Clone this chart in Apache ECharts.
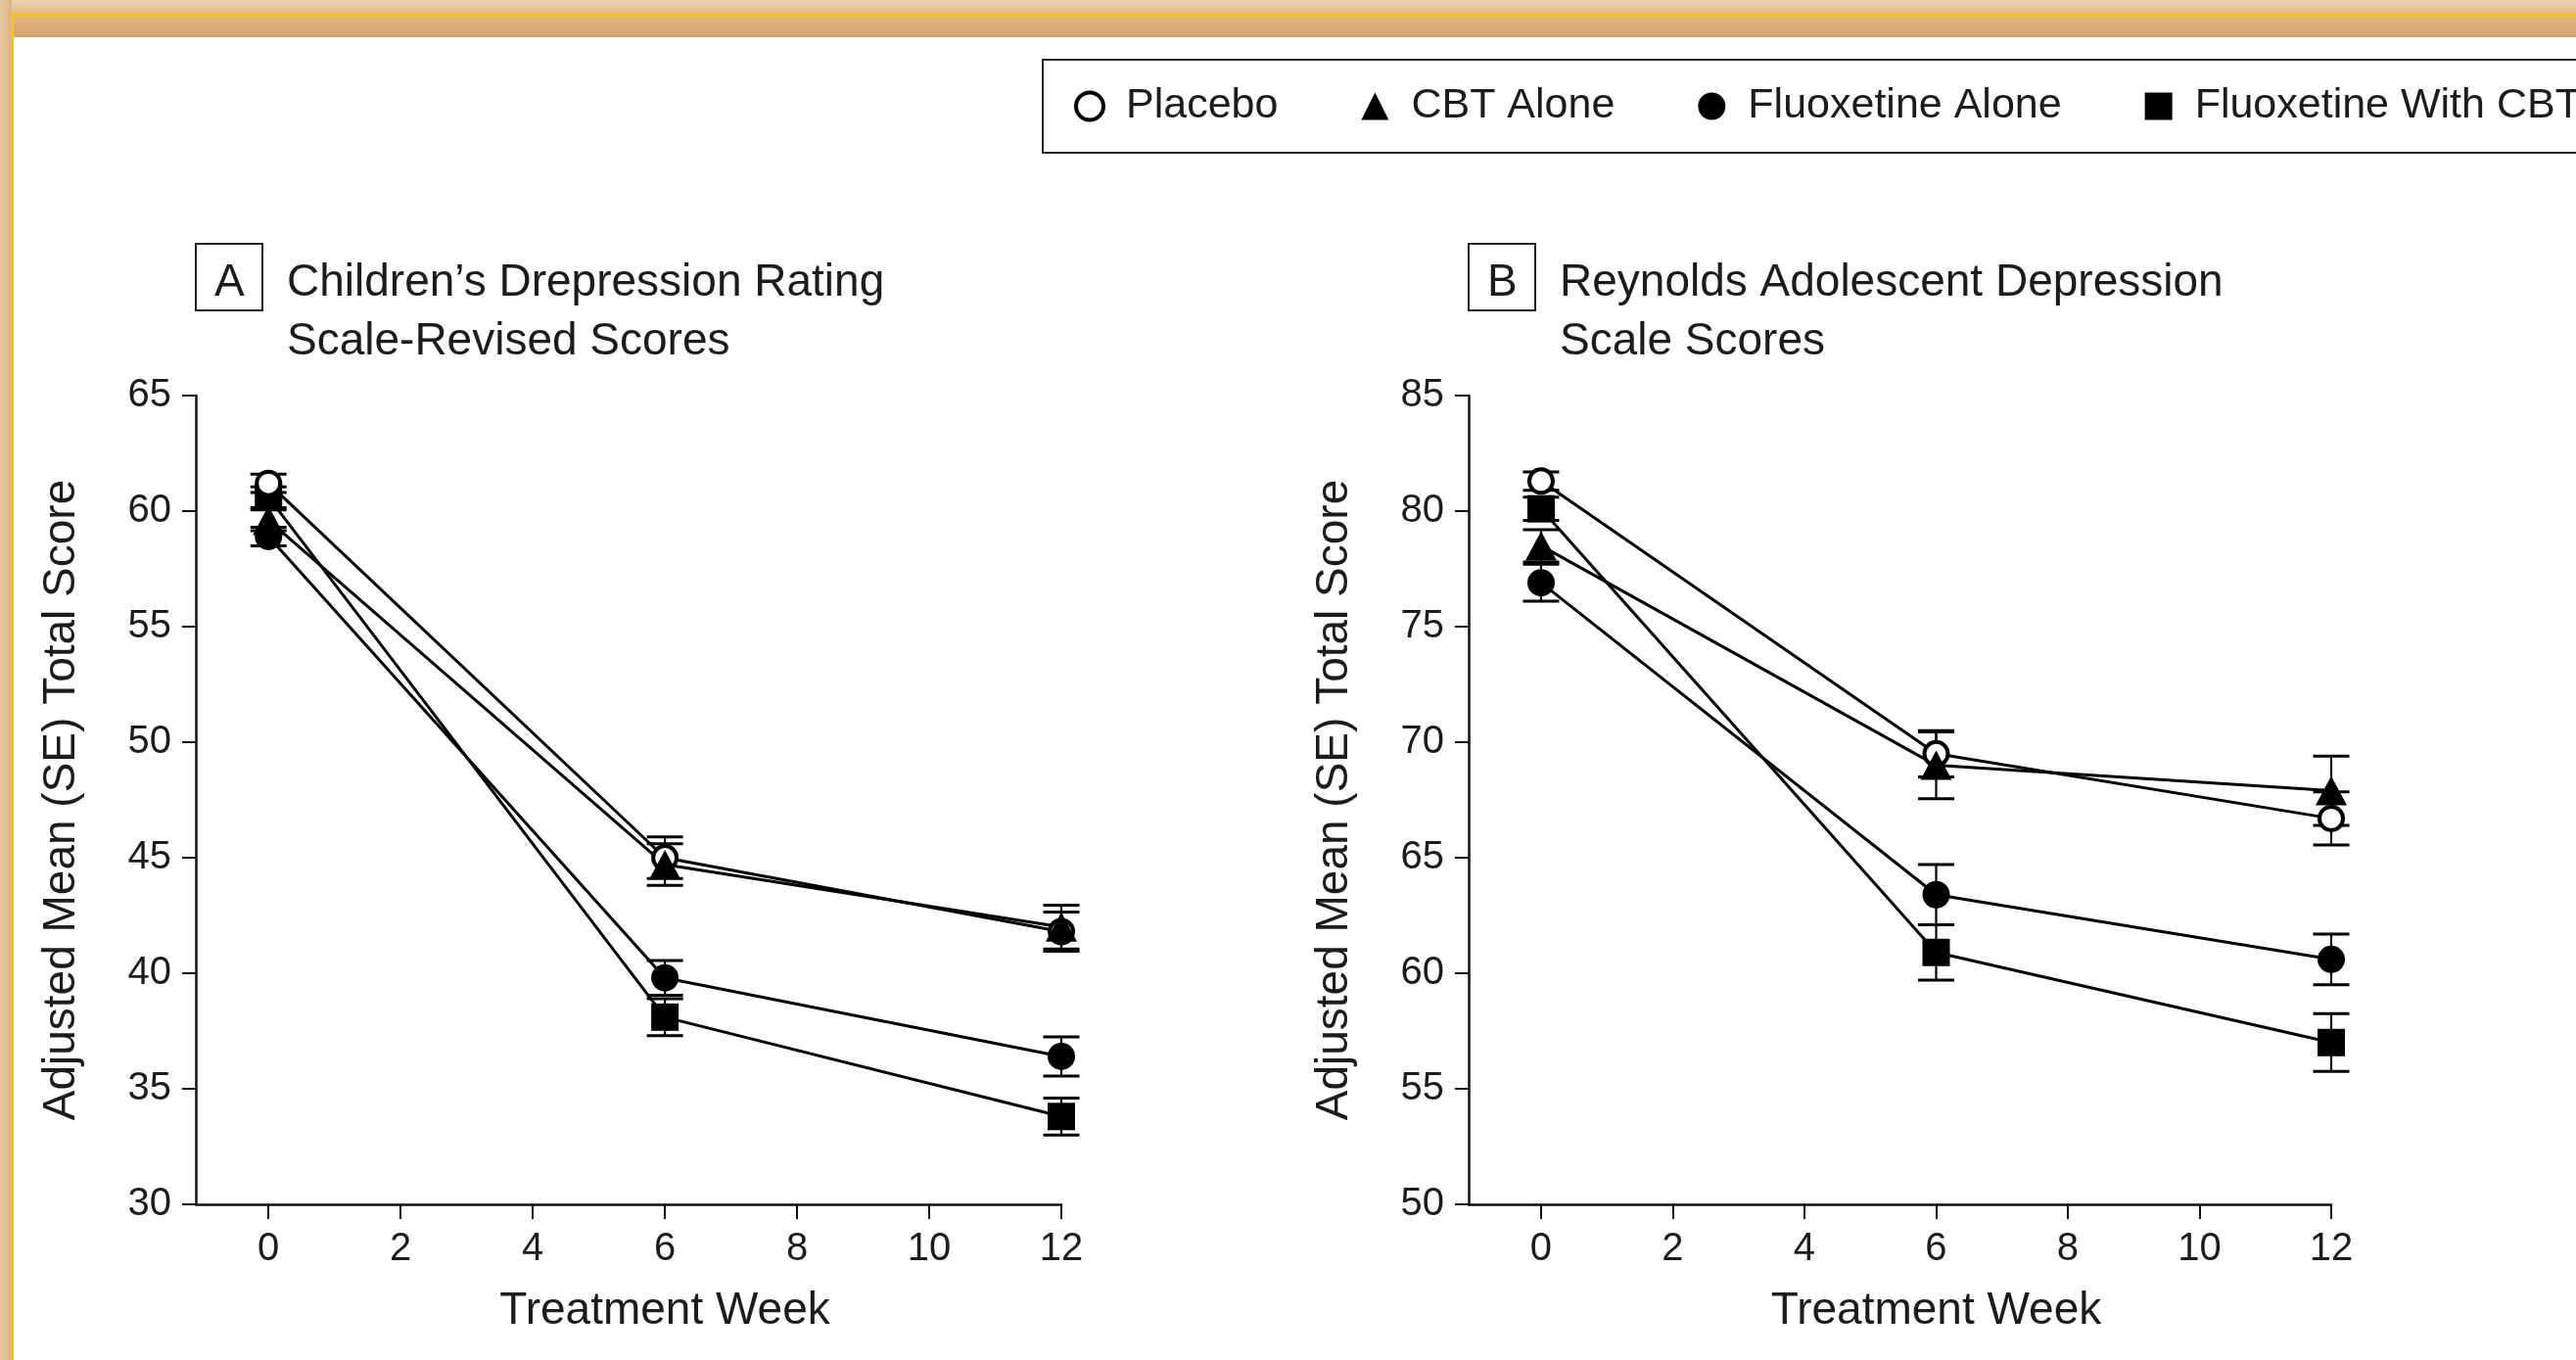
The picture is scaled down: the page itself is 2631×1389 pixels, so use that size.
<!DOCTYPE html>
<html><head><meta charset="utf-8">
<script src="https://cdn.jsdelivr.net/npm/echarts@6/dist/echarts.min.js"></script>
<style>html,body{margin:0;padding:0;background:#fff}#c{width:2631px;height:1389px}</style>
</head><body><div id="c"></div>
<script>
// ---------- data ----------
const weeks = [0, 6, 12];
const groups = ['Placebo', 'CBT Alone', 'Fluoxetine Alone', 'Fluoxetine With CBT'];
const xTickValues = [0, 2, 4, 6, 8, 10, 12];

// Panel A: Children's Depression Rating Scale-Revised
const cdrsPlacebo = [61.2, 45.0, 41.8];
const cdrsPlaceboSE = [0.4, 0.9, 0.85];
const cdrsCBT = [59.6, 44.7, 42.0];
const cdrsCBTSE = [0.45, 0.9, 0.95];
const cdrsFlx = [58.9, 39.8, 36.4];
const cdrsFlxSE = [0.4, 0.75, 0.85];
const cdrsComb = [60.6, 38.1, 33.8];
const cdrsCombSE = [0.45, 0.8, 0.8];

// Panel B: Reynolds Adolescent Depression Scale
const radsPlacebo = [81.3, 69.5, 66.7];
const radsPlaceboSE = [0.4, 1.0, 1.15];
const radsCBT = [78.5, 69.0, 67.9];
const radsCBTSE = [0.7, 1.45, 1.5];
const radsFlx = [76.9, 63.4, 60.6];
const radsFlxSE = [0.8, 1.3, 1.1];
const radsComb = [80.1, 60.9, 57.0];
const radsCombSE = [0.5, 1.2, 1.25];

const panelTitles = ['Children\u2019s Drepression Rating\nScale-Revised Scores', 'Reynolds Adolescent Depression\nScale Scores'];
const panelLetters = ['A', 'B'];
const xAxisName = 'Treatment Week';
const yAxisName = 'Adjusted Mean (SE) Total Score';

// ---------- styles ----------
const FONT = '"Liberation Sans", Arial, Helvetica, sans-serif';
const INK = '#1c1c1c';
const markerStyles = [
  {symbol: 'circle', symbolSize: 24, z: 6, itemStyle: {color: '#fff', borderColor: '#000', borderWidth: 4, opacity: 1}},
  {symbol: 'triangle', symbolSize: [32, 30], z: 8, itemStyle: {color: '#000', opacity: 1}},
  {symbol: 'circle', symbolSize: 28, z: 7, itemStyle: {color: '#000', opacity: 1}},
  {symbol: 'rect', symbolSize: 28, z: 5, itemStyle: {color: '#000', opacity: 1}}
];

const panels = [
  {means: [cdrsPlacebo, cdrsCBT, cdrsFlx, cdrsComb], se: [cdrsPlaceboSE, cdrsCBTSE, cdrsFlxSE, cdrsCombSE]},
  {means: [radsPlacebo, radsCBT, radsFlx, radsComb], se: [radsPlaceboSE, radsCBTSE, radsFlxSE, radsCombSE]}
];

const grids = [
  {left: 200, top: 404, width: 884, height: 826},
  {left: 1500, top: 404, width: 881, height: 826}
];
const yRanges = [[30, 65], [50, 85]];

function makeXAxis(i) {
  return {
    gridIndex: i, type: 'value', min: -1.1, max: 12,
    name: xAxisName, nameLocation: 'middle', nameGap: 86,
    nameTextStyle: {fontSize: 46, color: INK, fontFamily: FONT, padding: [0, 0, 0, 74]},
    axisLine: {show: true, onZero: false, lineStyle: {color: '#111', width: 2.5}},
    axisTick: {show: true, length: 15, customValues: xTickValues, lineStyle: {color: '#111', width: 2}},
    axisLabel: {customValues: xTickValues, fontSize: 40, color: INK, fontFamily: FONT, margin: 26},
    splitLine: {show: false}
  };
}
function makeYAxis(i) {
  return {
    gridIndex: i, type: 'value', min: yRanges[i][0], max: yRanges[i][1], interval: 5,
    name: yAxisName, nameLocation: 'middle', nameGap: 114, nameRotate: 90,
    nameTextStyle: {fontSize: 46, color: INK, fontFamily: FONT},
    axisLine: {show: true, onZero: false, lineStyle: {color: '#111', width: 2.5}},
    axisTick: {show: true, length: 14, lineStyle: {color: '#111', width: 2}},
    axisLabel: {fontSize: 40, color: INK, fontFamily: FONT, margin: 25},
    splitLine: {show: false}
  };
}

function errRender(params, api) {
  const x = api.value(0);
  const lo = api.coord([x, api.value(2)]);
  const hi = api.coord([x, api.value(3)]);
  const hw = 18.5;
  return {
    type: 'group',
    children: [
      {type: 'line', shape: {x1: lo[0], y1: lo[1], x2: hi[0], y2: hi[1]}, style: {stroke: '#000', lineWidth: 2.2}},
      {type: 'line', shape: {x1: lo[0] - hw, y1: lo[1], x2: lo[0] + hw, y2: lo[1]}, style: {stroke: '#000', lineWidth: 3}},
      {type: 'line', shape: {x1: hi[0] - hw, y1: hi[1], x2: hi[0] + hw, y2: hi[1]}, style: {stroke: '#000', lineWidth: 3}}
    ]
  };
}

const series = [];
panels.forEach((p, pi) => {
  groups.forEach((g, gi) => {
    const pts = weeks.map((w, k) => [w, p.means[gi][k]]);
    const errs = weeks.map((w, k) => [w, p.means[gi][k], p.means[gi][k] - p.se[gi][k], p.means[gi][k] + p.se[gi][k]]);
    series.push({
      name: g, type: 'custom', xAxisIndex: pi, yAxisIndex: pi, z: 2, silent: true, clip: false,
      renderItem: errRender, encode: {x: 0, y: [1, 2, 3]}, data: errs
    });
    series.push({
      name: g, type: 'line', xAxisIndex: pi, yAxisIndex: pi, z: 3, silent: true,
      symbol: 'none', lineStyle: {color: '#000', width: 3}, data: pts
    });
    series.push(Object.assign({
      name: g, type: 'scatter', xAxisIndex: pi, yAxisIndex: pi, silent: true, data: pts
    }, JSON.parse(JSON.stringify(markerStyles[gi]))));
  });
});

const titles = [];
[0, 1].forEach(i => {
  titles.push({
    text: panelLetters[i], left: grids[i].left, top: 249, padding: [17, 19, 5, 19],
    borderWidth: 2, borderColor: '#222',
    textStyle: {fontSize: 46, fontWeight: 'normal', color: INK, fontFamily: FONT, lineHeight: 46}
  });
  titles.push({
    text: panelTitles[i], left: grids[i].left + 93, top: 259, padding: 0,
    textStyle: {fontSize: 46, fontWeight: 'normal', color: INK, fontFamily: FONT, lineHeight: 60}
  });
});

const chart = echarts.init(document.getElementById('c'), null, {renderer: 'canvas'});
chart.setOption({
  backgroundColor: '#fff',
  animation: false,
  title: titles,
  legend: {
    left: 1065, top: 61, width: 2400, orient: 'horizontal',
    padding: [25, 30, 25, 32], itemWidth: 28, itemHeight: 28, itemGap: 85,
    borderColor: '#222', borderWidth: 2, selectedMode: false,
    textStyle: {fontSize: 43, color: INK, fontFamily: FONT, lineHeight: 45, padding: [0, 0, 0, 18]},
    data: [
      {name: groups[0], icon: 'circle', itemStyle: {color: '#fff', borderColor: '#000', borderWidth: 4, opacity: 1}},
      {name: groups[1], icon: 'triangle', itemStyle: {color: '#000', borderColor: '#000', borderWidth: 0, opacity: 1}},
      {name: groups[2], icon: 'circle', itemStyle: {color: '#000', borderColor: '#000', borderWidth: 0, opacity: 1}},
      {name: groups[3], icon: 'rect', itemStyle: {color: '#000', borderColor: '#000', borderWidth: 0, opacity: 1}}
    ]
  },
  grid: grids,
  xAxis: [makeXAxis(0), makeXAxis(1)],
  yAxis: [makeYAxis(0), makeYAxis(1)],
  series: series,
  graphic: [
    {type: 'rect', z: -10, shape: {x: 0, y: 0, width: 2631, height: 38}, style: {fill: new echarts.graphic.LinearGradient(0, 0, 0, 1, [{offset: 0, color: '#ecd2ae'}, {offset: 0.4, color: '#e4ba85'}, {offset: 1, color: '#d3a46c'}])}},
    {type: 'rect', z: -10, shape: {x: 0, y: 0, width: 12, height: 1389}, style: {fill: new echarts.graphic.LinearGradient(0, 0, 1, 0, [{offset: 0, color: '#e8c9a0'}, {offset: 1, color: '#dcb27e'}])}},
    {type: 'rect', z: -9, shape: {x: 12, y: 14, width: 2619, height: 3}, style: {fill: '#ffc20e'}},
    {type: 'rect', z: -9, shape: {x: 11, y: 14, width: 3, height: 1375}, style: {fill: '#ffc20e'}}
  ]
});
</script>
</body></html>
